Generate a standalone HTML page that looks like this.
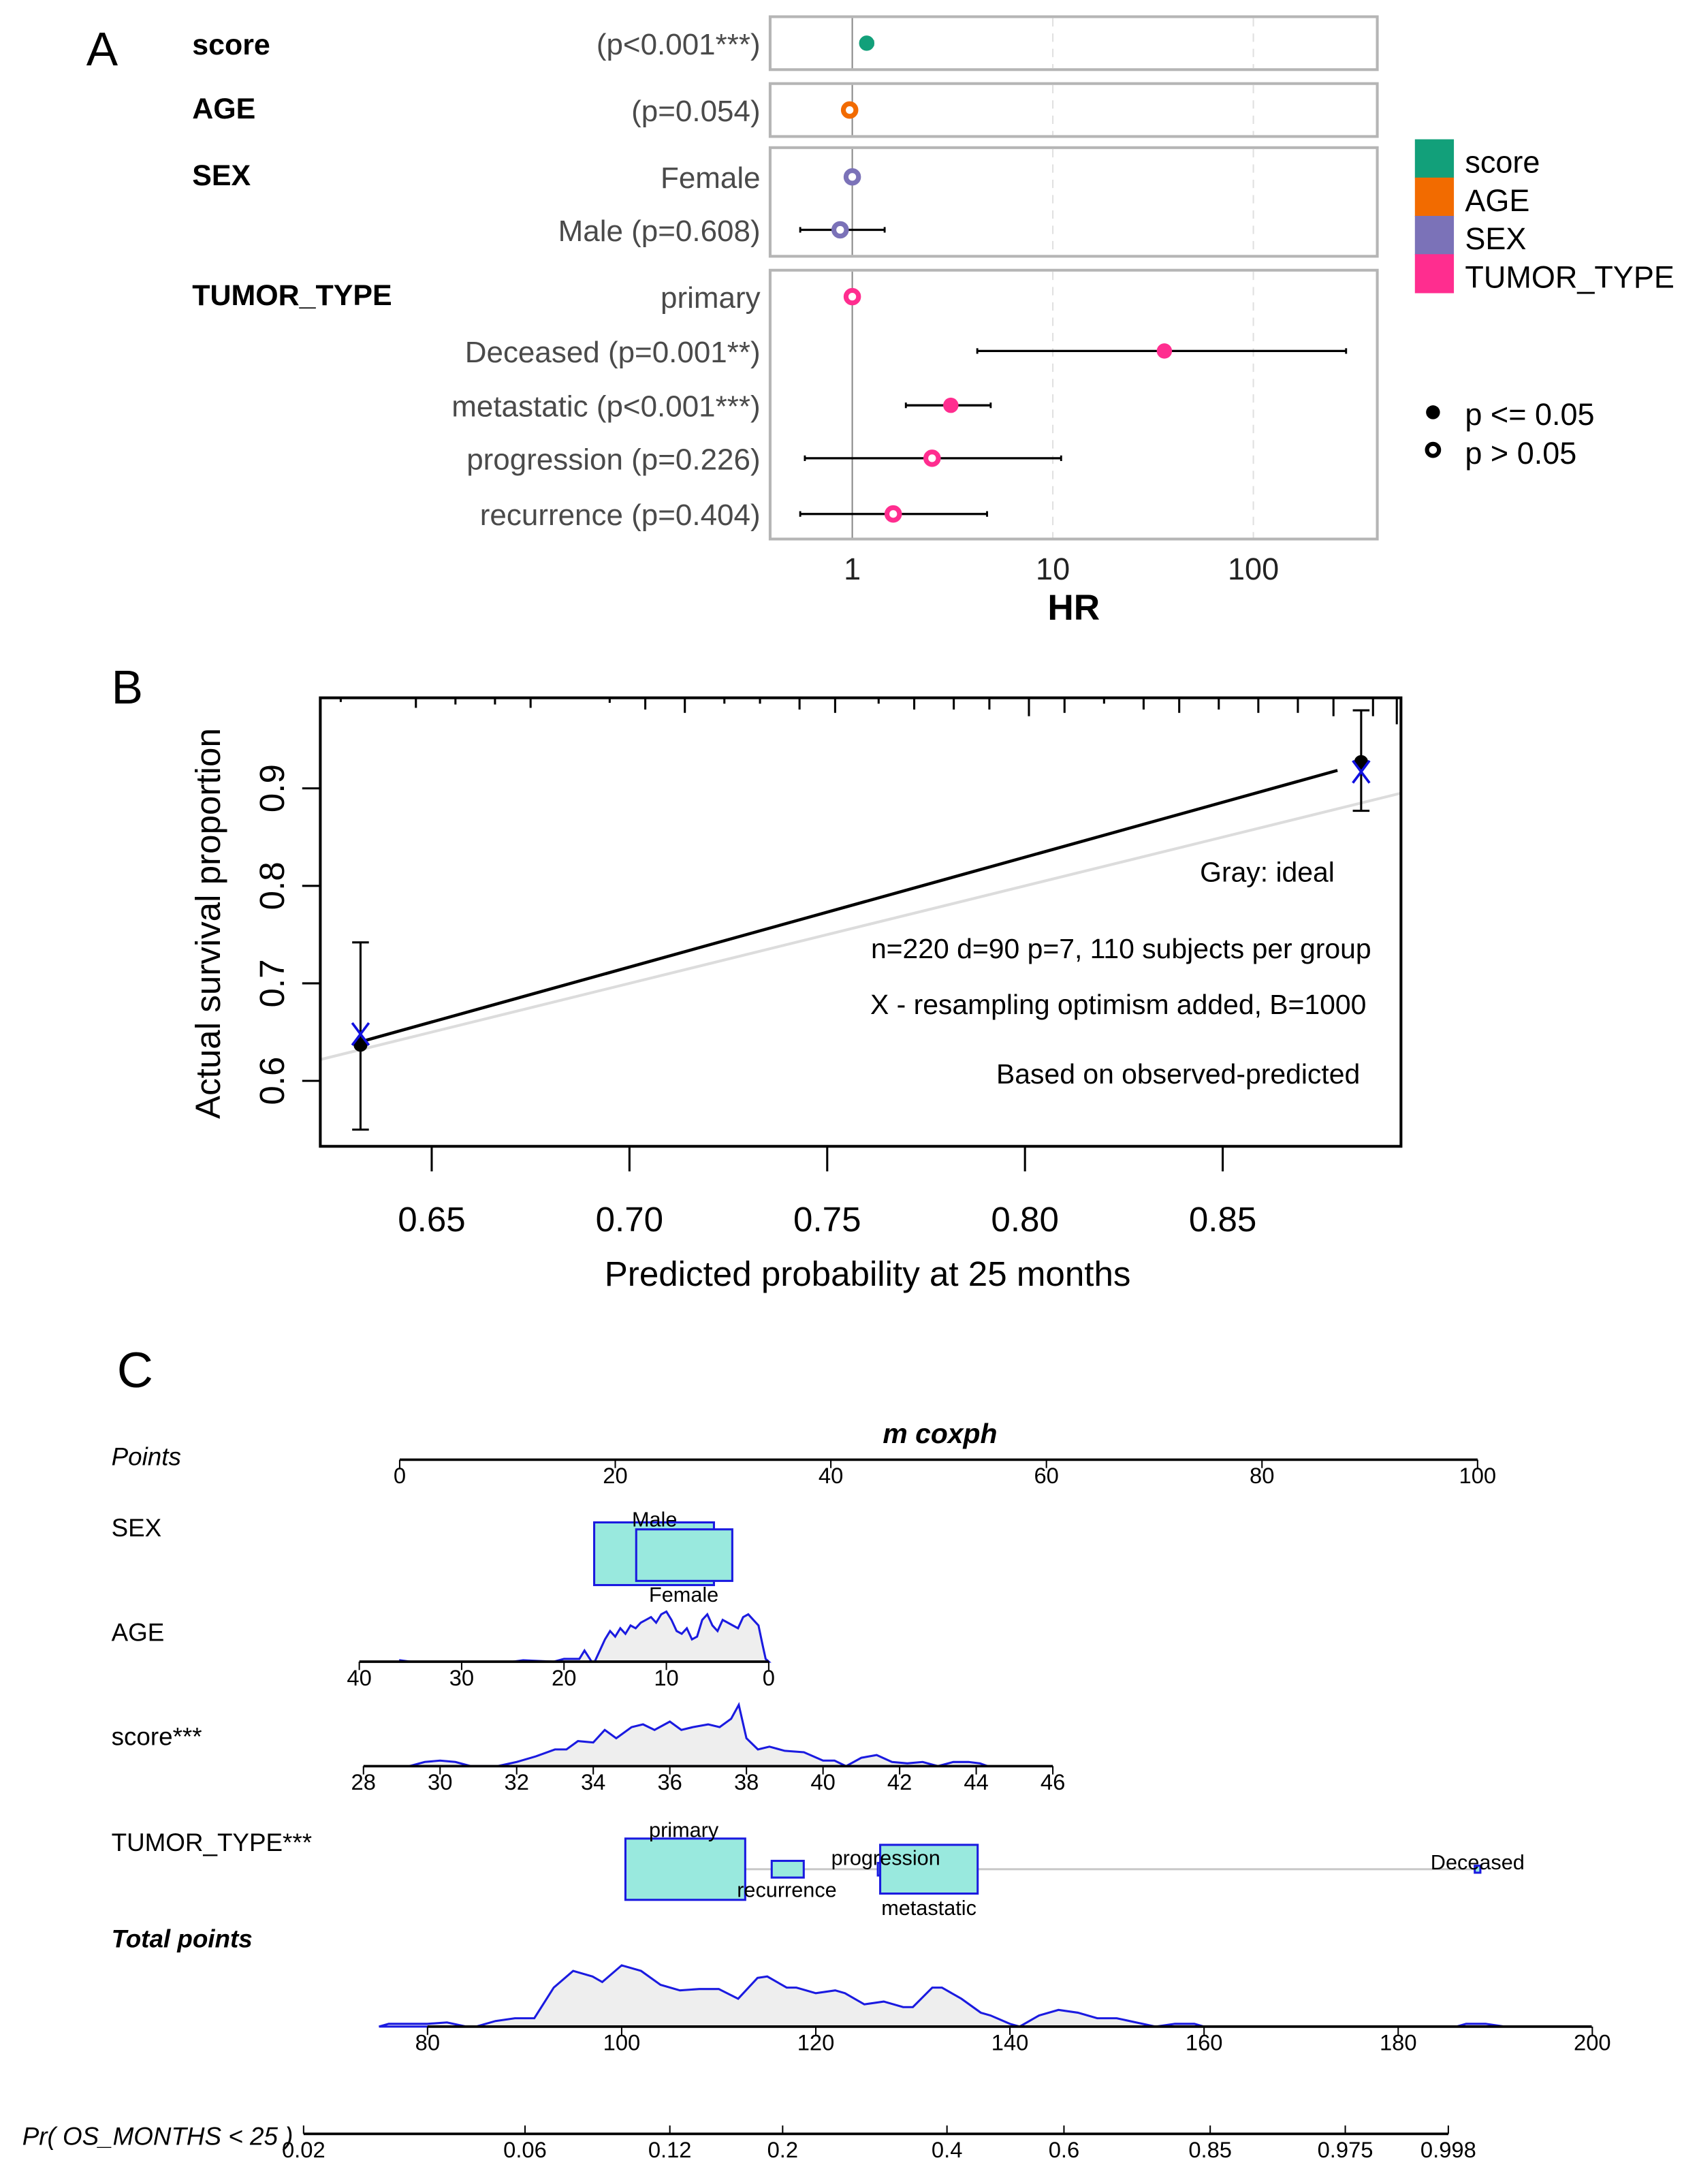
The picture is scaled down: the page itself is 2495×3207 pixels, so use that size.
<!DOCTYPE html>
<html><head><meta charset="utf-8">
<style>
html,body{margin:0;padding:0;background:#fff;}
svg{display:block;}
text{font-family:"Liberation Sans",Arial,sans-serif;}
</style></head>
<body>
<svg id="fig" width="2495" height="3207" viewBox="0 0 1220 1568" preserveAspectRatio="none" xmlns="http://www.w3.org/2000/svg">
<g id="pa"></g>
<g id="pb"></g>
<g id="pc"></g>
</svg>
<script>
// ---------- Panel A data ----------
const aLabels = ["(p<0.001***)","(p=0.054)","Female","Male (p=0.608)","primary","Deceased (p=0.001**)","metastatic (p<0.001***)","progression (p=0.226)","recurrence (p=0.404)"];
const aHR = [1.18,0.97,1,0.87,1,36,3.1,2.5,1.6];
const aLow = [1.1,0.94,1,0.55,1,4.2,1.85,0.58,0.55];
const aHigh = [1.27,1.0,1,1.45,1,290,4.9,11,4.7];
const aSig = [1,0,0,0,0,1,1,0,0];
const aGroup = [0,1,2,2,3,3,3,3,3];
const aGroupNames = ["score","AGE","SEX","TUMOR_TYPE"];
const aColors = ["#12a07a","#f26b00","#7b72b8","#ff2d8f"];
const aTicks = [1,10,100];
// ---------- Panel B data ----------
const bPred = [0.632,0.885];
const bObs = [0.637,0.927];
const bLo = [0.55,0.877];
const bHi = [0.742,0.98];
const bCorr = [0.648,0.917];
const bRug = [0.627,0.646,0.656,0.666,0.675,0.695,0.704,0.714,0.724,0.733,0.743,0.752,0.763,0.772,0.782,0.791,0.801,0.810,0.820,0.830,0.839,0.849,0.859,0.869,0.878,0.888];
const bRugLen = [5,12,8,8,12,6,14,18,7,7,14,18,7,14,14,14,22,18,7,14,18,14,18,18,22,22];
const bXTicks = [0.65,0.70,0.75,0.80,0.85];
const bYTicks = [0.6,0.7,0.8,0.9];
// ---------- Panel C data ----------
const pointsTicks = [0,20,40,60,80,100];
const ageTicks = [40,30,20,10,0];
const ageX = [36,35,25,24,21,20,18.5,18,17.3,17,16,15.5,15,14.5,14,13.5,13,12.5,12,11.5,11,10.5,10,9.5,9,8.5,8,7.5,7,6.5,6,5.5,5,4.5,4,3.5,3,2.5,2,1.5,1,0.6,0.3,0];
const ageH = [1,0,0,1,0,2,2,8,0,0,16,22,18,24,20,26,24,28,30,32,28,34,36,30,22,20,24,16,18,30,34,26,22,30,28,26,24,32,34,30,26,12,2,0];
const scoreTicks = [28,30,32,34,36,38,40,42,44,46];
const scoreX = [29.2,29.6,30,30.4,30.8,31.5,32,32.5,33,33.3,33.6,34,34.3,34.6,35,35.3,35.6,36,36.3,36.6,37,37.3,37.6,37.8,38,38.3,38.6,39,39.5,40,40.3,40.6,41,41.4,41.8,42.2,42.6,43,43.4,43.8,44.1,44.3];
const scoreH = [0,3,4,3,0,0,3,7,12,12,18,17,26,20,28,30,26,32,26,28,30,28,34,44,20,12,14,11,10,4,4,0,6,8,3,2,3,0,3,3,2,0];
const sexLevels = ["Male","Female"];
const sexPts = [23.6,26.4];
const sexW = [86,69];
const sexHt = [45,37];
const tumorLevels = ["primary","recurrence","progression","metastatic","Deceased"];
const tumorPts = [26.5,36,45.2,49.1,100];
const tumorW = [86,23,13,70,4];
const tumorHt = [44,12,9,35,5];
const totalTicks = [80,100,120,140,160,180,200];
const totalX = [75,76,78,80,82,84,85,87,89,91,93,95,97,98,100,102,104,106,108,110,112,114,115,117,118,120,122,123,125,127,129,130,132,133,135,137,138,140,141,143,145,147,149,151,153,155,157,159,160,162,186,187,189,191];
const totalH = [0,2,2,2,3,0,0,4,6,6,28,40,36,32,44,40,30,26,27,27,20,35,36,28,28,24,26,24,16,18,14,14,28,28,20,10,8,2,0,8,12,10,6,6,3,0,2,2,0,0,0,2,2,0];
const prTicks = ["0.02","0.06","0.12","0.2","0.4","0.6","0.85","0.975","0.998"];
const prVals = [0.02,0.06,0.12,0.2,0.4,0.6,0.85,0.975,0.998];

const NS="http://www.w3.org/2000/svg";
function mk(parent,tag,attrs,txt){const e=document.createElementNS(NS,tag);for(const k in attrs)e.setAttribute(k,attrs[k]);if(txt!==undefined)e.textContent=txt;parent.appendChild(e);return e;}

// ===== Panel A =====
const pa=document.getElementById('pa');
const ax=v=>612+Math.log10(v)*144;
const rowY=[31,79,127,165,213,252,291,329,369];
const boxes=[[12,50],[60,98],[106,184],[194,387]];
let t=mk(pa,'text',{x:62,y:47,'font-size':34},'A');


const gy=[32,78,126,212];
aGroupNames.forEach((n,i)=>{const e=mk(pa,'text',{x:138,y:gy[i]+7,'font-size':21,'font-weight':'bold'},n);

});
boxes.forEach((b,i)=>{
 const g=mk(pa,'g',{});
 
 
 mk(g,'rect',{x:553,y:b[0],width:436,height:b[1]-b[0],fill:'#fff',stroke:'#b5b5b5','stroke-width':2});
 [10,100].forEach(v=>mk(g,'line',{x1:ax(v),x2:ax(v),y1:b[0]+1,y2:b[1]-1,stroke:'#e0e0e0','stroke-dasharray':'6,5','stroke-width':1}));
 mk(g,'line',{x1:ax(1),x2:ax(1),y1:b[0]+1,y2:b[1]-1,stroke:'#888','stroke-width':1});
});
aLabels.forEach((l,i)=>{
 const e=mk(pa,'text',{x:546,y:rowY[i]+8,'font-size':21.5,fill:'#4a4a4a','text-anchor':'end'},l);
 
 
 const g=mk(pa,'g',{});
 
 
 if(aLow[i]!==aHigh[i]){mk(g,'line',{x1:ax(aLow[i]),x2:ax(aHigh[i]),y1:rowY[i],y2:rowY[i],stroke:'#000','stroke-width':1.6});
  [aLow[i],aHigh[i]].forEach(v=>mk(g,'line',{x1:ax(v),x2:ax(v),y1:rowY[i]-2,y2:rowY[i]+2,stroke:'#000','stroke-width':1.4}));}
 const c=aColors[aGroup[i]];
 if(aSig[i]) mk(g,'circle',{cx:ax(aHR[i]),cy:rowY[i],r:5.5,fill:c});
 else mk(g,'circle',{cx:ax(aHR[i]),cy:rowY[i],r:4.5,fill:'#fff',stroke:c,'stroke-width':3.5});
});
aTicks.forEach(v=>{const e=mk(pa,'text',{x:ax(v),y:416,'font-size':22,'text-anchor':'middle',fill:'#222'},String(v));
 
 });
t=mk(pa,'text',{x:771,y:445,'font-size':26,'font-weight':'bold','text-anchor':'middle'},'HR');


aGroupNames.forEach((n,i)=>{const g=mk(pa,'g',{});
 
 
 mk(g,'rect',{x:1016,y:100+i*27.5,width:28,height:28,fill:aColors[i]});
 mk(g,'text',{x:1052,y:124+i*27.5,'font-size':22},n);});
let g=mk(pa,'g',{});


mk(g,'circle',{cx:1029,cy:296,r:5,fill:'#000'});
mk(g,'text',{x:1052,y:305,'font-size':22},'p <= 0.05');
g=mk(pa,'g',{});


mk(g,'circle',{cx:1029,cy:323,r:4.3,fill:'#fff',stroke:'#000','stroke-width':3});
mk(g,'text',{x:1052,y:333,'font-size':22},'p > 0.05');

// ===== Panel B =====
const pb=document.getElementById('pb');
const bx=v=>310+(v-0.65)*2840;
const by=v=>776-(v-0.6)*700;
t=mk(pb,'text',{x:80,y:505,'font-size':34},'B');


let ideal=mk(pb,'line',{x1:230,y1:by(0.65+(230-310)/2840),x2:1006,y2:by(0.65+(1006-310)/2840),stroke:'#dcdcdc','stroke-width':2});


t=mk(pb,'line',{x1:bx(bPred[0])+3,y1:by(bObs[0])-3,x2:bx(bPred[1])-17,y2:by(bObs[1])+6,stroke:'#000','stroke-width':2.2});


mk(pb,'rect',{x:230,y:501,width:776,height:322,fill:'none',stroke:'#000','stroke-width':2});
bRug.forEach((v,i)=>{const l=mk(pb,'line',{x1:bx(v),x2:bx(v),y1:501,y2:501+bRugLen[i]*0.6,stroke:'#000','stroke-width':1.5});
 
 });
mk(pb,'line',{x1:1003,x2:1003,y1:501,y2:520,stroke:'#000','stroke-width':1.5});
bPred.forEach((p,i)=>{const g=mk(pb,'g',{});
 
 
 const x=bx(p);
 mk(g,'line',{x1:x,x2:x,y1:by(bHi[i]),y2:by(bLo[i]),stroke:'#000','stroke-width':1.5});
 [bHi[i],bLo[i]].forEach(v=>mk(g,'line',{x1:x-6,x2:x+6,y1:by(v),y2:by(v),stroke:'#000','stroke-width':1.5}));
 mk(g,'circle',{cx:x,cy:by(bObs[i]),r:5,fill:'#000'});
 const cy=by(bCorr[i]);
 mk(g,'path',{d:`M${x-6} ${cy-8}L${x+6} ${cy+8}M${x+6} ${cy-8}L${x-6} ${cy+8}`,stroke:'#1010e0','stroke-width':1.8,fill:'none'});});
bXTicks.forEach(v=>{const g=mk(pb,'g',{});
 
 
 mk(g,'line',{x1:bx(v),x2:bx(v),y1:823,y2:841,stroke:'#000','stroke-width':1.5});
 mk(g,'text',{x:bx(v),y:884,'font-size':25,'text-anchor':'middle'},v.toFixed(2));});
bYTicks.forEach(v=>{const g=mk(pb,'g',{});
 
 
 mk(g,'line',{x1:217,x2:230,y1:by(v),y2:by(v),stroke:'#000','stroke-width':1.5});
 mk(g,'text',{x:204,y:by(v),'font-size':25,'text-anchor':'middle',transform:`rotate(-90 204 ${by(v)})`},String(v));});
t=mk(pb,'text',{x:623,y:923,'font-size':25,'text-anchor':'middle'},'Predicted probability at 25 months');


t=mk(pb,'text',{x:158,y:663,'font-size':25,'text-anchor':'middle',transform:'rotate(-90 158 663)'},'Actual survival proportion');


[["Gray: ideal",910,633],["n=220 d=90 p=7, 110 subjects per group",805,688],["X - resampling optimism added, B=1000",803,728],["Based on observed-predicted",846,778]].forEach(a=>{
 const e=mk(pb,'text',{x:a[1],y:a[2],'font-size':20,'text-anchor':'middle'},a[0]);
 
 });

// ===== Panel C =====
const pc=document.getElementById('pc');
const px=v=>287+v*7.74;
t=mk(pc,'text',{x:84,y:996,'font-size':36},'C');


t=mk(pc,'text',{x:675,y:1036,'font-size':20,'font-weight':'bold','font-style':'italic','text-anchor':'middle'},'m coxph');


[["Points",1052,'italic','normal'],["SEX",1103,'normal','normal'],["AGE",1178,'normal','normal'],["score***",1253,'normal','normal'],["TUMOR_TYPE***",1329,'normal','normal'],["Total points",1398,'italic','bold'],].forEach(a=>{
 const e=mk(pc,'text',{x:80,y:a[1],'font-size':18,'font-style':a[2],'font-weight':a[3]},a[0]);
 
 });
function axis(parent,name,y,x0,x1,ticks,labels,up){const g=mk(parent,'g',{});
 
 
 mk(g,'line',{x1:x0,x2:x1,y1:y,y2:y,stroke:'#000','stroke-width':1.8});
 ticks.forEach((tx,i)=>{mk(g,'line',{x1:tx,x2:tx,y1:y,y2:up?y-6:y+6,stroke:'#000','stroke-width':1});
  mk(g,'text',{x:tx,y:y+17,'font-size':16,'text-anchor':'middle'},labels[i]);});}
axis(pc,'points-axis',1048,287,1061,pointsTicks.map(px),pointsTicks.map(String));
// SEX
const sexCy=[1115.5,1116.5];
sexLevels.forEach((s,i)=>{const g=mk(pc,'g',{});
 
 
 const cx=px(sexPts[i]);
 mk(g,'rect',{x:cx-sexW[i]/2,y:sexCy[i]-sexHt[i]/2,width:sexW[i],height:sexHt[i],fill:'#99e9de',stroke:'#1a1ae0','stroke-width':1.5});});
t=mk(pc,'text',{x:470,y:1096,'font-size':15,'text-anchor':'middle'},'Male');


t=mk(pc,'text',{x:491,y:1150,'font-size':15,'text-anchor':'middle'},'Female');


function density(parent,name,base,xs,hs,sx){let d=`M${sx(xs[0])} ${base}`;xs.forEach((v,i)=>d+=`L${sx(v)} ${base-hs[i]}`);d+=`L${sx(xs[xs.length-1])} ${base}Z`;
 const p=mk(parent,'path',{d:d,fill:'#eeeeee',stroke:'#1a1ae0','stroke-width':1.5});
 
 }
const agx=v=>552-v*7.35;
density(pc,'age-density',1193,ageX,ageH,agx);
axis(pc,'age-axis',1193,258,552,ageTicks.map(agx),ageTicks.map(String));
const scx=v=>261+(v-28)*27.5;
density(pc,'score-density',1268,scoreX,scoreH,scx);
axis(pc,'score-axis',1268,261,756,scoreTicks.map(scx),scoreTicks.map(String));
// TUMOR
mk(pc,'line',{x1:535,x2:1061,y1:1342,y2:1342,stroke:'#c8c8c8','stroke-width':1.5});
tumorLevels.forEach((l,i)=>{const g=mk(pc,'g',{});
 
 
 const cx=px(tumorPts[i]);
 mk(g,'rect',{x:cx-tumorW[i]/2,y:1342-tumorHt[i]/2,width:tumorW[i],height:tumorHt[i],fill:'#99e9de',stroke:'#1a1ae0','stroke-width':1.5});});
[["primary",491,1319],["recurrence",565,1362],["progression",636,1339],["metastatic",667,1375],["Deceased",1061,1342]].forEach(a=>{
 const e=mk(pc,'text',{x:a[1],y:a[2],'font-size':15,'text-anchor':'middle'},a[0]);
 
 });
const tx=v=>307+(v-80)*6.97;
density(pc,'total-points-density',1455,totalX,totalH,tx);
axis(pc,'total-points-axis',1455,307,1143,totalTicks.map(tx),totalTicks.map(String));
// Pr axis
const prPos=[218,377,481,562,680,764,869,966,1040];
axis(pc,'probability-axis',1532,218,1040,prPos,prTicks,true);
t=mk(pc,'text',{x:16,y:1540,'font-size':18,'font-style':'italic'},'Pr( OS_MONTHS < 25 )');


</script>
</body></html>
